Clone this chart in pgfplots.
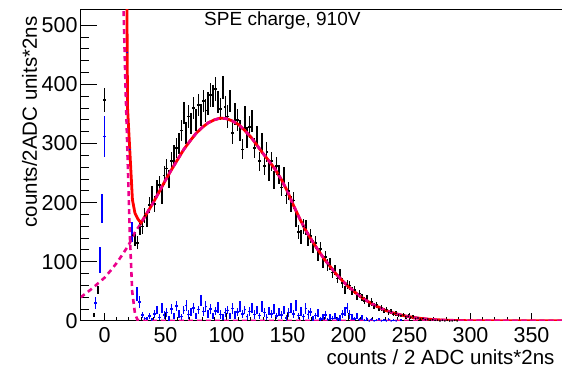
\documentclass[border=0pt]{standalone}
\usepackage{pgfplots}
\pgfplotsset{compat=1.18}
\usepackage{fontspec}
\setmainfont{Liberation Sans}
\begin{document}
\begin{tikzpicture}
\begin{axis}[
  scale only axis, width=482.5pt, height=311.6pt,
  xmin=-19.5, xmax=376, ymin=0, ymax=527,
  axis line style={black, line width=0.9pt},
  tick align=inside, xtick pos=bottom, ytick pos=left,
  xtick={0,50,...,350}, ytick={0,100,...,500},
  minor x tick num=4, minor y tick num=4,
  major tick length=16pt, minor tick length=8pt,
  every x tick/.append style={/pgfplots/major tick length=8pt,/pgfplots/minor tick length=4pt},
  every tick/.style={black, line width=0.9pt},
  /pgf/number format/assume math mode=true,
  ticklabel style={font=\fontsize{21.5}{24}\selectfont},
  yticklabel style={inner sep=0pt, xshift=-3pt},
  xticklabel style={inner sep=0pt, yshift=-6pt},
  xlabel={counts / 2 ADC units*2ns},
  ylabel={counts/2ADC units*2ns},
  every axis x label/.style={at={(axis description cs:0.9892,0)}, anchor=base east, yshift=-44pt, font=\fontsize{20.5}{24}\selectfont},
  every axis y label/.style={at={(axis description cs:-0.0906,0.988)}, anchor=base east, rotate=90, font=\fontsize{20.5}{24}\selectfont},
]
% black data histogram
\addplot[black, only marks, mark=*, mark size=0.6pt,
  error bars/.cd, y dir=both, y explicit, x dir=both, x fixed=1, error mark=none,
  error bar style={line width=1.5pt, black}]
table[x=x, y=y, y error=e] {
x y e
-8.8 10 3
-5.5 52 7
0 374 20
23 145 12
25 138 12
27 132 11
29 158 13
31 160 13
33 178 13
35 172 13
37 196 14
39 213 15
41 198 14
43 224 15
45 230 15
47 212 15
49 246 16
51 258 16
53 240 15
55 270 16
57 281 17
59 292 17
61 300 17
63 322 18
65 352 19
67 318 18
69 346 19
71 334 18
73 360 19
75 340 18
77 365 19
79 348 19
81 372 19
83 356 19
85 368 19
87 382 20
89 380 19
91 392 20
93 370 19
95 358 19
97 395 20
99 362 19
101 346 19
103 372 19
105 318 18
107 350 19
109 340 18
111 322 18
113 290 17
115 344 19
117 310 18
119 328 18
121 338 18
123 292 17
125 312 18
127 270 16
129 300 17
131 262 16
133 286 17
135 252 16
137 270 16
139 238 15
141 262 16
143 248 16
145 226 15
147 244 16
149 212 15
151 220 15
153 198 14
155 204 14
157 172 13
159 150 12
161 142 12
163 160 13
165 158 13
167 138 12
169 144 12
171 126 11
173 132 11
175 112 11
177 122 11
179 100 10
181 108 10
183 94 10
185 96 10
187 82 9
189 86 9
191 72 8
193 78 9
195 64 8
197 52 7
199 62 8
201 60 8
203 50 7
205 52 7
207 42 6
209 46 7
211 40 6
213 34 6
215 38 6
217 28 5
219 32 6
221 25 5
223 27 5
225 20 4
227 22 5
229 17 4
231 19 4
233 14 4
235 16 4
237 12 3
239 13 4
241 10 3
243 9 3
245 10 3
247 7 3
249 8 3
251 6 2
253 7 3
255 4 2
257 5 2
259 3 2
261 4 2
263 2 1
265 3 2
267 1 1
269 2 1
271 1 1
273 1 1
275 0 0
277 1 1
279 0 0
281 1 1
283 0 0
285 0 0
287 1 1
289 0 0
};
% blue histogram
\addplot[blue, only marks, mark=*, mark size=0.6pt,
  error bars/.cd, y dir=both, y explicit, x dir=both, x fixed=1, error mark=none,
  error bar style={line width=1.4pt, blue}]
table[x=x, y=y, y error=e] {
x y e
-7.4 30 10
-3.8 103 22
-2 190 25
0 312 35
18.6 454 45
20.7 290 28
22.7 150 17
26.8 45 12
28.8 32 10
31 10 5
33 4 3
35 3 3
37 8 5
39 2 3
41 12 7
43 18 7
45 6 5
47 22 9
49 10 7
51 14 7
53 4 5
55 20 9
57 9 5
59 25 9
61 12 7
63 7 5
65 18 7
67 26 9
69 11 7
71 15 7
73 22 9
75 8 5
77 19 7
79 34 9
81 16 7
83 24 9
85 12 7
87 20 9
89 9 5
91 17 7
93 23 9
95 11 7
97 6 5
99 14 7
101 18 7
103 8 5
105 21 9
107 10 7
109 15 7
111 24 9
113 12 7
115 19 7
117 7 5
119 16 7
121 22 9
123 11 7
125 18 7
127 9 5
129 24 9
131 14 7
133 6 5
135 17 7
137 12 7
139 20 9
141 8 5
143 15 7
145 10 7
147 19 7
149 5 5
151 14 7
153 22 9
155 12 7
157 26 9
159 9 5
161 16 7
163 7 5
165 21 9
167 11 7
169 15 7
171 4 5
173 9 5
175 13 7
177 3 3
179 7 5
181 10 7
183 2 3
185 6 5
187 4 5
189 8 5
191 3 3
193 5 5
195 12 7
197 16 7
199 22 9
201 11 7
203 6 5
205 3 3
207 8 5
209 2 3
211 5 5
213 1 3
215 3 3
217 0 0
219 2 3
221 0 0
223 1 3
225 2 3
227 0 0
229 1 3
231 0 0
233 2 3
235 0 0
237 1 3
239 0 0
243 1 3
};
% total fit (red)
\addplot[red, line width=2.8pt, mark=none] coordinates {
(18.2,600) (18.9,360) (20.7,290) (22.9,205) (25,182) (27.5,172) (29,168) (30,166)
(35,183) (40,200) (45,219) (50,238) (55,256) (60,273) (65,290) (70,304) (75,317)
(80,327) (85,335) (90,340) (95,343) (100,342) (105,338) (110,332) (115,322) (120,311)
(125,297) (130,283) (135,270) (140,256) (145,239) (150,219) (155,195) (160,173)
(165,153) (170,136) (175,120) (180,105) (185,92) (190,79) (195,68) (200,58) (205,49)
(210,41) (215,34) (220,28) (225,23) (230,18) (235,14.5) (240,11.5) (245,9) (250,7)
(255,5.3) (260,4) (265,3) (270,2.2) (280,1.2) (290,0.6) (300,0.3) (320,0.1) (376,0)
};
% pedestal component (magenta dashed)
\addplot[magenta, line width=2.6pt, dash pattern=on 5pt off 4pt, mark=none] coordinates {
(15.0,600) (15.2,560) (17.2,400) (20.7,150) (22.7,50) (25,12) (27,2) (30,0) (376,0)
};
% SPE component (magenta dashed)
\addplot[magenta, line width=2.6pt, dash pattern=on 5pt off 4pt, mark=none] coordinates {
(-19.5,40) (-15,47) (-10,55) (-5,64) (0,73) (5,85) (10,98) (15,113) (20,129) (25,150)
(30,165) (35,183) (40,200) (45,219) (50,238) (55,256) (60,273) (65,290) (70,304)
(75,317) (80,327) (85,335) (90,340) (95,343) (100,342) (105,338) (110,332) (115,322)
(120,311) (125,297) (130,283) (135,270) (140,256) (145,239) (150,219) (155,195)
(160,173) (165,153) (170,136) (175,120) (180,105) (185,92) (190,79) (195,68) (200,58)
(205,49) (210,41) (215,34) (220,28) (225,23) (230,18) (235,14.5) (240,11.5) (245,9)
(250,7) (255,5.3) (260,4) (265,3) (270,2.2) (280,1.2) (290,0.6) (300,0.3) (320,0.1) (376,0)
};
\node[anchor=base west, font=\fontsize{19}{22}\selectfont] at (rel axis cs:0.2487,0.9464) {SPE charge, 910V};
\end{axis}
\pgfresetboundingbox
\useasboundingbox (-80.7pt,-50.1pt) rectangle (481.3pt,320.9pt);
\end{tikzpicture}
\end{document}
